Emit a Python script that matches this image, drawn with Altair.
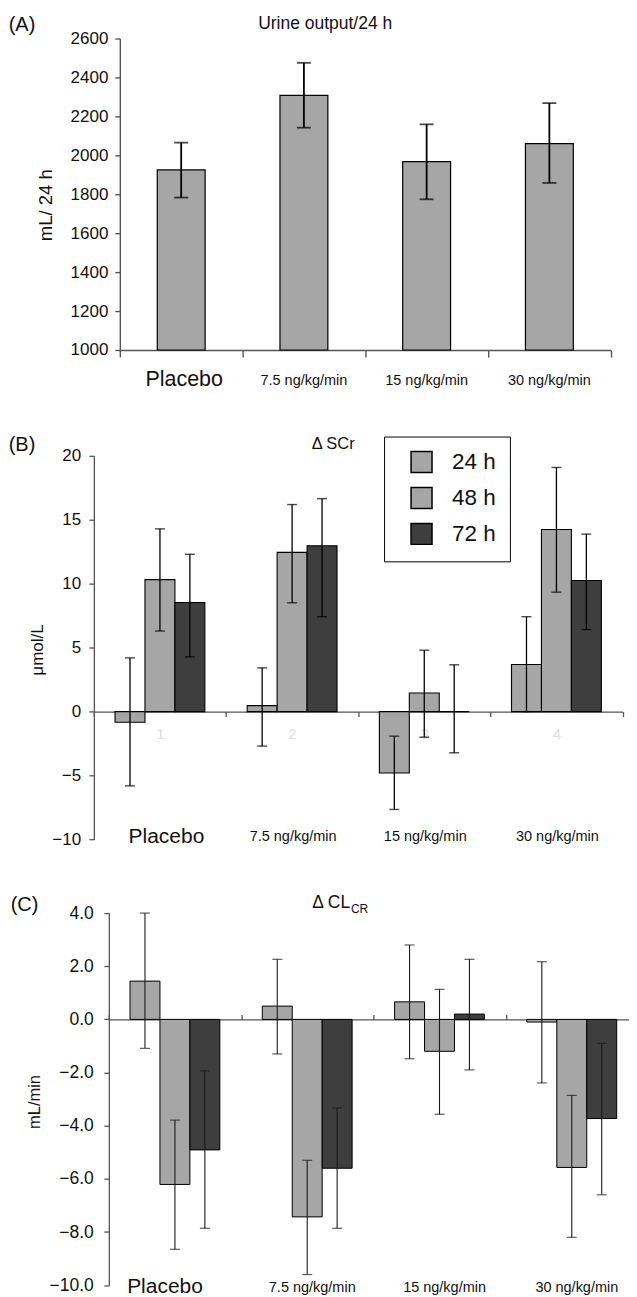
import altair as alt
import pandas as pd

# ---------------- data ----------------
categories = ["Placebo", "7.5 ng/kg/min", "15 ng/kg/min", "30 ng/kg/min"]
times = ["24 h", "48 h", "72 h"]
panel_tags = ["(A)", "(B)", "(C)"]
panel_titles = ["Urine output/24 h", "\u0394 SCr", "\u0394 CL"]
title_sub_c = "CR"
faint_ids = ["1", "2", "3", "4"]

# (A) urine output, mL/24 h
urine_mean = [1925, 2308, 1968, 2060]
urine_low = [1783, 2142, 1774, 1858]
urine_high = [2065, 2475, 2159, 2268]

# (B) delta serum creatinine, umol/L
scr_mean_24 = [-0.83, 0.47, -4.80, 3.68]
scr_low_24 = [-5.81, -2.70, -7.65, 0.00]
scr_high_24 = [4.20, 3.42, -1.92, 7.42]
scr_mean_48 = [10.32, 12.45, 1.45, 14.24]
scr_low_48 = [6.30, 8.51, -2.00, 9.34]
scr_high_48 = [14.29, 16.19, 4.80, 19.09]
scr_mean_72 = [8.53, 12.97, 0.00, 10.25]
scr_low_72 = [4.28, 7.42, -3.22, 6.41]
scr_high_72 = [12.30, 16.65, 3.66, 13.88]

# (C) delta creatinine clearance, mL/min
cl_mean_24 = [1.44, 0.50, 0.66, -0.10]
cl_low_24 = [-1.09, -1.30, -1.48, -2.39]
cl_high_24 = [4.00, 2.26, 2.80, 2.17]
cl_mean_48 = [-6.21, -7.43, -1.20, -5.57]
cl_low_48 = [-8.65, -9.60, -3.57, -8.20]
cl_high_48 = [-3.79, -5.30, 1.13, -2.86]
cl_mean_72 = [-4.91, -5.60, 0.20, -3.73]
cl_low_72 = [-7.86, -7.86, -1.90, -6.60]
cl_high_72 = [-1.94, -3.33, 2.26, -0.90]

# ---------------- styles ----------------
FONT = "Liberation Sans"
LIGHT = "#a6a6a6"
DARK = "#3e3e3e"
AX = "#555555"
TXT = "#111111"


def long_df(means, lows, highs):
    rows = []
    for t, ms, ls, hs in zip(times, means, lows, highs):
        for c, m, lo, hi in zip(categories, ms, ls, hs):
            rows.append({"cat": c, "time": t, "mean": m, "lo": lo, "hi": hi})
    return pd.DataFrame(rows)


cat_df = pd.DataFrame({"cat": categories})


def text_layer(txt, x, y, size, align="left", baseline="middle"):
    return alt.Chart(pd.DataFrame({"t": [txt]})).mark_text(
        font=FONT, fontSize=size, align=align, baseline=baseline, color=TXT
    ).encode(x=alt.value(x), y=alt.value(y), text="t:N")


def cat_labels(xenc, y_plac, y_other, dx_plac, dx_other, fs_plac, fs_other):
    plac = alt.Chart(cat_df).transform_filter("datum.cat == 'Placebo'").mark_text(
        font=FONT, fontSize=fs_plac, align="center", baseline="alphabetic", dx=dx_plac, color=TXT
    ).encode(x=xenc, y=alt.value(y_plac), text="cat:N")
    other = alt.Chart(cat_df).transform_filter("datum.cat != 'Placebo'").mark_text(
        font=FONT, fontSize=fs_other, align="center", baseline="alphabetic", dx=dx_other, color=TXT
    ).encode(x=xenc, y=alt.value(y_other), text="cat:N")
    return [plac, other]


# ================= Panel A =================
dfA = pd.DataFrame({"cat": categories, "mean": urine_mean, "lo": urine_low, "hi": urine_high})
WA, HA, PA = 517.7, 417.5, 312

xA = alt.X(
    "cat:N", sort=categories, title=None,
    scale=alt.Scale(domain=categories, range=[26, WA], paddingInner=0, paddingOuter=0),
    axis=alt.Axis(orient="bottom", labels=False, tickBand="extent", tickSize=7, offset=-(HA - PA),
                  domainColor=AX, tickColor=AX, domainWidth=1.4, tickWidth=1.4),
)


def yA(field):
    return alt.Y(
        field, title="mL/ 24 h",
        scale=alt.Scale(domain=[1000, 2600], range=[PA, 0], nice=False, zero=False),
        axis=alt.Axis(values=list(range(1000, 2601, 200)), format="d", offset=-26, tickSize=5,
                      labelPadding=7, labelFontSize=17, titleFontSize=18.5, titleX=-74.3,
                      titleY=166.5, titleAngle=-90, titleBaseline="middle", titleAlign="center",
                      domainColor=AX, tickColor=AX, domainWidth=1.4, tickWidth=1.4),
    )


barsA = alt.Chart(dfA).mark_bar(
    color=LIGHT, stroke="black", strokeWidth=1.2, width=alt.RelativeBandSize(0.39)
).encode(x=xA, y=yA("mean:Q"), y2=alt.datum(1000))
ruleA = alt.Chart(dfA).mark_rule(color="black", strokeWidth=1.8).encode(x=xA, y=yA("lo:Q"), y2="hi:Q")
capLoA = alt.Chart(dfA).mark_tick(color="black", size=14, thickness=1.8).encode(x=xA, y=yA("lo:Q"))
capHiA = alt.Chart(dfA).mark_tick(color="black", size=14, thickness=1.8).encode(x=xA, y=yA("hi:Q"))

panelA = alt.layer(
    barsA, ruleA, capLoA, capHiA,
    *cat_labels(xA, 348.5, 347, 3, 0, 21.5, 14.5),
    text_layer(panel_titles[0], 231.7, -14.5, 17.5, align="center"),
    text_layer(panel_tags[0], -85.3, -14, 20),
).properties(width=WA, height=HA)

# ================= Panel B =================
dfB = long_df([scr_mean_24, scr_mean_48, scr_mean_72],
              [scr_low_24, scr_low_48, scr_low_72],
              [scr_high_24, scr_high_48, scr_high_72])
WB, HB, PB = 529.5, 457.3, 384.3
zeroB = PB * 20 / 30

faint_expr = " : ".join(
    f"datum.value == '{c}' ? '{i}'" for c, i in zip(categories, faint_ids)
) + " : ''"

xB = alt.X(
    "cat:N", sort=categories, title=None,
    scale=alt.Scale(domain=categories, paddingInner=0, paddingOuter=0),
    axis=alt.Axis(orient="bottom", tickBand="extent", tickSize=5, offset=-(HB - zeroB),
                  labelExpr=faint_expr, labelFontSize=15, labelColor="#dedede", labelPadding=9.5,
                  labelAngle=0, domainColor=AX, tickColor=AX, domainWidth=1.3, tickWidth=1.3),
)
xoffB = alt.XOffset("time:N", sort=times,
                    scale=alt.Scale(domain=times, paddingInner=0, paddingOuter=0.707))


def yB(field):
    return alt.Y(
        field, title="\u03bcmol/L",
        scale=alt.Scale(domain=[-10, 20], range=[PB, 0], nice=False, zero=False),
        axis=alt.Axis(values=list(range(-10, 21, 5)), tickSize=5, labelPadding=8.3,
                      labelFontSize=17, titleFontSize=17, titleX=-56.6, titleY=194, titleAngle=-90,
                      titleBaseline="middle", titleAlign="center", domainColor=AX, tickColor=AX,
                      domainWidth=1.3, tickWidth=1.3),
    )


colorB = alt.Color(
    "time:N", sort=times,
    scale=alt.Scale(domain=times, range=[LIGHT, LIGHT, DARK]),
    legend=alt.Legend(title=None, orient="none", legendX=290.7, legendY=-19.3, direction="vertical",
                      symbolType="square", symbolSize=441, symbolStrokeColor="black",
                      symbolStrokeWidth=1.5, labelFontSize=22.5, labelFont=FONT, labelColor=TXT,
                      padding=14, rowPadding=9, labelOffset=19, symbolOffset=12,
                      strokeColor="black", fillColor="white"),
)

barsB = alt.Chart(dfB).mark_bar(stroke="black", strokeWidth=1.1).encode(
    x=xB, xOffset=xoffB, y=yB("mean:Q"), color=colorB)
ruleB = alt.Chart(dfB).mark_rule(color="black", strokeWidth=1.3).encode(
    x=xB, xOffset=xoffB, y=yB("lo:Q"), y2="hi:Q")
capLoB = alt.Chart(dfB).mark_tick(color="black", size=10, thickness=1.4).encode(
    x=xB, xOffset=xoffB, y=yB("lo:Q"))
capHiB = alt.Chart(dfB).mark_tick(color="black", size=10, thickness=1.4).encode(
    x=xB, xOffset=xoffB, y=yB("hi:Q"))

panelB = alt.layer(
    barsB, ruleB, capLoB, capHiB,
    *cat_labels(xB, 388, 386, 6.5, 1, 21, 14.5),
    text_layer(panel_titles[1], 239.7, -12, 16.5, align="center"),
    text_layer(panel_tags[1], -85.3, -11, 20),
).properties(width=WB, height=HB)

# ================= Panel C =================
dfC = long_df([cl_mean_24, cl_mean_48, cl_mean_72],
              [cl_low_24, cl_low_48, cl_low_72],
              [cl_high_24, cl_high_48, cl_high_72])
WC, HC = 545, 372.7
zeroC = HC * 4 / 14

xC = alt.X(
    "cat:N", sort=categories, title=None,
    scale=alt.Scale(domain=categories, range=[15, WC], paddingInner=0, paddingOuter=0),
    axis=alt.Axis(orient="top", labels=False, tickBand="extent", tickSize=5, offset=-zeroC,
                  domainColor=AX, tickColor=AX, domainWidth=1.3, tickWidth=1.3),
)
xoffC = alt.XOffset("time:N", sort=times,
                    scale=alt.Scale(domain=times, paddingInner=0, paddingOuter=0.707))


def yC(field):
    return alt.Y(
        field, title="mL/min",
        scale=alt.Scale(domain=[-10, 4], range=[HC, 0], nice=False, zero=False),
        axis=alt.Axis(values=list(range(-10, 5, 2)), format=".1f", offset=-15, tickSize=5,
                      labelPadding=10.6, labelFontSize=17.5, titleFontSize=16.5, titleX=-74.8,
                      titleY=188.7, titleAngle=-90, titleBaseline="middle", titleAlign="center",
                      domainColor=AX, tickColor=AX, domainWidth=1.3, tickWidth=1.3),
    )


colorC = alt.Color("time:N", sort=times,
                   scale=alt.Scale(domain=times, range=[LIGHT, LIGHT, DARK]), legend=None)

barsC = alt.Chart(dfC).mark_bar(stroke="black", strokeWidth=1.0).encode(
    x=xC, xOffset=xoffC, y=yC("mean:Q"), color=colorC)
ruleC = alt.Chart(dfC).mark_rule(color="#1a1a1a", strokeWidth=1.1).encode(
    x=xC, xOffset=xoffC, y=yC("lo:Q"), y2="hi:Q")
capLoC = alt.Chart(dfC).mark_tick(color="#1a1a1a", size=10, thickness=1.2).encode(
    x=xC, xOffset=xoffC, y=yC("lo:Q"))
capHiC = alt.Chart(dfC).mark_tick(color="#1a1a1a", size=10, thickness=1.2).encode(
    x=xC, xOffset=xoffC, y=yC("hi:Q"))

panelC = alt.layer(
    barsC, ruleC, capLoC, capHiC,
    *cat_labels(xC, 381, 379.5, -10, 5, 21, 14.5),
    text_layer(panel_titles[2], 256.7, -10.3, 17.5, align="right"),
    text_layer(title_sub_c, 257.5, -4.3, 12, align="left"),
    text_layer(panel_tags[2], -83.3, -8.3, 20),
).properties(width=WC, height=HC)

chart = alt.vconcat(panelA, panelB, panelC, spacing=0, bounds="flush").resolve_scale(
    color="independent"
).properties(
    padding={"left": 0, "top": 5.5, "right": -10, "bottom": 0},
    background="white",
).configure_view(stroke=None).configure_axis(
    grid=False, labelFont=FONT, titleFont=FONT, labelColor=TXT, titleColor=TXT,
    titleFontWeight="normal",
)

chart.save("out.html", embed_options={"renderer": "svg", "actions": False})
